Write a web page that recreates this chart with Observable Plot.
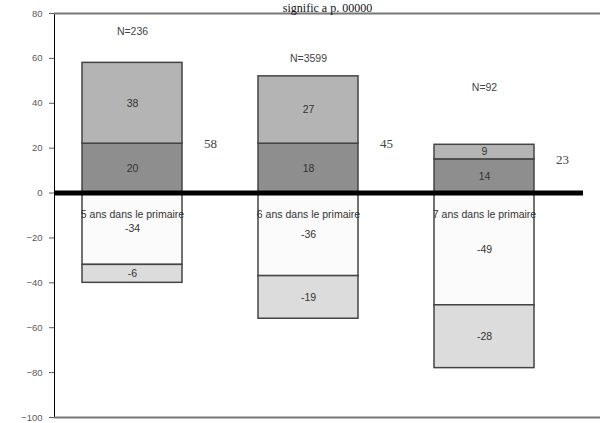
<!DOCTYPE html>
<html>
<head>
<meta charset="utf-8">
<script src="https://cdn.jsdelivr.net/npm/d3@7"></script>
<script src="https://cdn.jsdelivr.net/npm/@observablehq/plot@0.6"></script>
<style>
  html, body { margin: 0; padding: 0; background: #fff; }
  #chart { width: 600px; height: 423px; overflow: hidden; }
  #chart svg g[aria-label^="y-axis"] { color: #5a5a5a; }
</style>
</head>
<body>
<div id="chart"></div>
<script>
const title = "signific a p. 00000";
const categories = ["5 ans dans le primaire", "6 ans dans le primaire", "7 ans dans le primaire"];
const nLabels = ["N=236", "N=3599", "N=92"];
const nLabelY = [72, 60, 47];
const totals = ["58", "45", "23"];
// segment heights as drawn
const posLow = [22, 22, 15];
const posHigh = [36, 30, 6.5];
const negHigh = [-32, -37, -50];
const negLow = [-8, -19, -28];
// segment labels as printed
const posLowLabel = ["20", "18", "14"];
const posHighLabel = ["38", "27", "9"];
const negHighLabel = ["-34", "-36", "-49"];
const negLowLabel = ["-6", "-19", "-28"];
const yTicks = [80, 60, 40, 20, 0, -20, -40, -60, -80, -100];

const segmentColors = {posLow: "#8e8e8e", posHigh: "#b4b4b4", negHigh: "#fbfbfb", negLow: "#dcdcdc"};

const rows = [];
categories.forEach((c, i) => {
  rows.push({cat: c, seg: "posLow", value: posLow[i], label: posLowLabel[i]});
  rows.push({cat: c, seg: "posHigh", value: posHigh[i], label: posHighLabel[i]});
  rows.push({cat: c, seg: "negHigh", value: negHigh[i], label: negHighLabel[i]});
  rows.push({cat: c, seg: "negLow", value: negLow[i], label: negLowLabel[i]});
});
const info = categories.map((c, i) => ({cat: c, n: nLabels[i], ny: nLabelY[i], total: totals[i], ty: posLow[i]}));

const chart = Plot.plot({
  width: 600,
  height: 423,
  marginLeft: 54,
  marginRight: 0,
  marginTop: 13,
  marginBottom: 6,
  style: {fontFamily: "Liberation Sans, Arial, sans-serif", background: "#fff", fontSize: "9.5px"},
  x: {domain: categories, paddingInner: 0.433, paddingOuter: 0.263, align: 0.3, axis: null},
  y: {domain: [-100, 80], ticks: yTicks, tickSize: 5, tickPadding: 7, label: null, line: true},
  color: {domain: Object.keys(segmentColors), range: Object.values(segmentColors)},
  marks: [
    Plot.ruleY([80, -100], {stroke: "#777", strokeWidth: 2}),
    Plot.barY(rows, Plot.stackY({x: "cat", y: "value", fill: "seg", stroke: "#444", strokeWidth: 1.5, order: null})),
    Plot.text(rows, Plot.stackY({x: "cat", y: "value", text: "label", fontSize: 10.5, fill: "#333", order: null})),
    Plot.ruleY([0], {stroke: "#000", strokeWidth: 5, insetRight: 17}),
    Plot.text(categories, {x: d => d, y: 0, dy: 22, text: d => d, fontSize: 10.5, fill: "#333"}),
    Plot.text(info, {x: "cat", y: "ny", text: "n", fontSize: 10.5, fill: "#444"}),
    Plot.text(info, {x: "cat", y: "ty", text: "total", dx: 78, fontSize: 13, fill: "#444", fontFamily: "Liberation Serif, serif"}),
    Plot.text([title], {frameAnchor: "top", dy: -2, lineAnchor: "bottom", text: d => d, fontSize: 12, fill: "#111", fontFamily: "Liberation Serif, serif"})
  ]
});
document.getElementById("chart").append(chart);
</script>
</body>
</html>
